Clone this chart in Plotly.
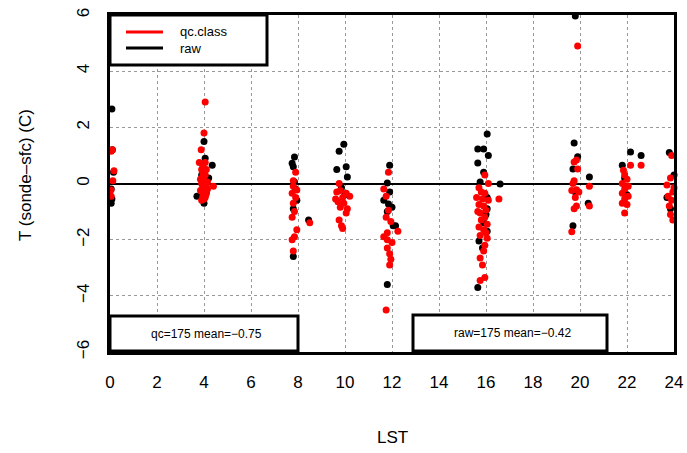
import plotly.graph_objects as go

# ---------------- data ----------------
raw_lst = [0.08, 0.08, 0.05, 0.10, 0.15, 0.05,
           4.00, 4.35, 3.70, 4.00, 3.90, 4.10, 4.20, 3.95, 4.05,
           7.85, 7.75, 7.80, 7.85, 7.95, 8.45, 7.80, 7.90, 7.80,
           9.95, 9.75, 10.05, 9.65, 10.10, 9.85, 10.00,
           11.90, 11.80, 11.65, 11.85, 12.00, 11.80, 12.05, 12.15, 11.80, 11.90,
           16.05, 15.65, 15.90, 16.10, 15.65, 15.90, 15.75, 16.60, 16.05, 16.00,
           16.05, 15.70, 15.85, 15.65, 15.90, 16.05,
           19.80, 19.75, 19.90, 19.70, 20.40, 20.35, 19.70, 19.80,
           22.15, 22.60, 21.80, 21.90, 22.00,
           23.80, 24.00, 23.70, 23.85]
raw_dt = [2.65, -0.55, -0.70, 1.20, 0.40, -0.20,
          1.50, 0.65, -0.45, -0.70, 0.30, -0.30, 0.20, 0.00, 0.90,
          0.94, 0.72, 0.60, 0.05, -0.60, -1.30, -2.60, -0.20, -0.90,
          1.40, 1.15, 0.60, 0.50, 0.23, -0.15, -0.40,
          0.65, 0.02, -0.60, -0.73, -0.85, -1.00, -1.50, -1.50, -3.60, -0.30,
          1.76, 1.23, 1.23, 1.00, 0.73, 0.40, 0.05, -0.02, -0.50, -1.10,
          -1.70, -2.05, -2.30, -3.70, -1.40, -0.90,
          5.96, 1.44, 0.95, 0.52, 0.23, -0.70, -1.50, -0.30,
          1.12, 1.00, 0.65, 0.20, -0.40,
          1.10, 0.30, -0.50, -0.90]

qc_lst = [0.10, 0.05, 0.17, 0.12, 0.04, 0.05,
          4.05, 4.00, 3.88, 3.80, 3.95, 4.05, 3.90, 4.10, 3.95, 4.05, 3.85, 4.00, 4.15, 4.40,
          3.90, 3.95, 4.05, 4.15, 3.85, 4.00, 4.10, 3.95, 4.05, 4.00, 3.90, 4.10, 3.92, 4.08,
          7.90, 7.80, 7.95, 7.75, 7.80, 7.85, 7.75, 7.95, 7.85, 7.75, 7.80, 8.50, 7.90, 7.80,
          9.75, 9.80, 10.05, 9.65, 9.90, 10.20, 9.70, 9.95, 9.80, 10.10, 10.05, 9.75, 9.85, 9.90, 9.60,
          11.85, 11.65, 11.75, 11.85, 11.75, 12.25, 11.65, 11.80, 12.00, 11.80, 11.90, 11.95, 11.90,
          11.75, 11.95, 11.80,
          15.95, 16.10, 16.55, 15.70, 15.80, 15.95, 15.60, 15.85, 16.10, 15.70, 15.90, 16.00, 15.75,
          15.95, 15.80, 16.05, 15.70, 15.90, 15.75, 16.05, 15.95, 15.90, 15.75, 15.85, 15.95, 15.75,
          16.00, 15.65,
          19.90, 19.75, 19.85, 19.90, 19.75, 19.70, 19.85, 19.65, 19.95, 19.80, 20.40, 19.85, 19.75,
          20.40, 19.65,
          22.15, 22.60, 21.85, 21.90, 22.00, 21.80, 22.05, 21.90, 21.80, 22.05, 21.90, 21.80, 22.00, 21.90,
          23.90, 23.70, 23.85, 23.95, 23.75, 23.90, 23.80, 23.85, 23.95, 24.00]
qc_dt = [1.20, 1.15, 0.45, 0.10, -0.23, -0.45,
         2.90, 1.80, 1.20, 0.75, 0.60, 0.75, 0.50, 0.50, 0.35, 0.30, 0.15, 0.10, 0.05, -0.10,
         0.00, -0.10, -0.15, -0.20, -0.25, -0.30, -0.35, -0.45, -0.50, -0.55, -0.60, -0.05, 0.20, -0.40,
         0.40, -0.10, -0.23, -0.35, -0.70, -1.00, -1.20, -1.65, -1.90, -2.00, -2.40, -1.40, -0.50, 0.10,
         0.00, -0.25, -0.35, -0.30, -0.50, -0.45, -0.65, -0.70, -0.85, -0.90, -1.05, -1.30, -1.50, -1.60, -0.55,
         0.40, -0.20, -0.45, -0.95, -1.20, -1.70, -1.90, -2.00, -2.10, -2.30, -2.50, -2.70, -2.90,
         -4.50, -1.35, -1.75,
         0.30, 0.00, -0.55, -0.15, -0.30, -0.35, -0.50, -0.55, -0.60, -0.75, -0.80, -0.95, -1.05,
         -1.20, -1.30, -1.45, -1.55, -1.65, -1.85, -1.95, -2.20, -2.40, -2.65, -2.90, -3.35, -3.45,
         -1.75, -1.00,
         4.90, 0.77, 0.84, 0.52, 0.10, 0.00, -0.22, -0.25, -0.30, -0.50, -0.10, -0.80, -0.90,
         -0.80, -1.72,
         0.65, 0.65, 0.47, 0.30, 0.15, 0.00, -0.10, -0.20, -0.35, -0.45, -0.55, -0.70, -0.75, -1.05,
         1.00, -0.05, 0.20, -0.30, -0.45, -0.60, -0.80, -1.10, -1.30, -0.15]

x_ticks = [0, 2, 4, 6, 8, 10, 12, 14, 16, 18, 20, 22, 24]
y_ticks = [-6, -4, -2, 0, 2, 4, 6]
y_tick_labels = ["\u22126", "\u22124", "\u22122", "0", "2", "4", "6"]

series_names = ["qc.class", "raw"]
qc_n, qc_mean = 175, "\u22120.75"
raw_n, raw_mean = 175, "\u22120.42"

FONT = "Liberation Sans, Arial, sans-serif"

fig = go.Figure()
fig.add_trace(go.Scatter(x=raw_lst, y=raw_dt, mode="markers", name="raw",
                         marker=dict(color="black", size=7), cliponaxis=False,
                         showlegend=False))
fig.add_trace(go.Scatter(x=qc_lst, y=qc_dt, mode="markers", name="qc.class",
                         marker=dict(color="#ff0000", size=7), cliponaxis=False,
                         showlegend=False))

W, H = 687, 453
PL, PR, PT, PB = 110, 674, 15, 352          # plot box in reference pixels
L, T = PL, PT
R, B = W - PR, H - PB
pw, ph = PR - PL, PB - PT


def px(xp):
    return (xp - PL) / pw


def py(yp):
    return (PB - yp) / ph


shapes = []
annotations = []
# legend box
shapes.append(dict(type="rect", xref="paper", yref="paper",
                   x0=px(110), x1=px(267), y0=py(65), y1=py(15),
                   line=dict(color="black", width=3), fillcolor="white", layer="above"))
for yy, col, name in [(32, "#ff0000", series_names[0]), (48, "black", series_names[1])]:
    shapes.append(dict(type="line", xref="paper", yref="paper",
                       x0=px(126), x1=px(163), y0=py(yy), y1=py(yy),
                       line=dict(color=col, width=3), layer="above"))
    annotations.append(dict(xref="paper", yref="paper", x=px(178), y=py(yy),
                            xanchor="left", yanchor="middle", text=name, showarrow=False,
                            font=dict(family=FONT, size=13, color="black")))
# stats boxes
shapes.append(dict(type="rect", xref="paper", yref="paper",
                   x0=px(110), x1=px(298), y0=py(351), y1=py(316),
                   line=dict(color="black", width=3), fillcolor="white", layer="above"))
annotations.append(dict(xref="paper", yref="paper", x=px(206), y=py(334),
                        xanchor="center", yanchor="middle",
                        text=f"qc={qc_n} mean={qc_mean}", showarrow=False,
                        font=dict(family=FONT, size=12, color="black")))
shapes.append(dict(type="rect", xref="paper", yref="paper",
                   x0=px(413), x1=px(607), y0=py(351), y1=py(315),
                   line=dict(color="black", width=3), fillcolor="white", layer="above"))
annotations.append(dict(xref="paper", yref="paper", x=px(512), y=py(333),
                        xanchor="center", yanchor="middle",
                        text=f"raw={raw_n} mean={raw_mean}", showarrow=False,
                        font=dict(family=FONT, size=12, color="black")))
# axis titles
annotations.append(dict(xref="paper", yref="paper", x=px(392), y=py(437),
                        xanchor="center", yanchor="middle", text="LST", showarrow=False,
                        font=dict(family=FONT, size=17, color="black")))
annotations.append(dict(xref="paper", yref="paper", x=px(25), y=py(175),
                        xanchor="center", yanchor="middle", text="T (sonde\u2013sfc) (C)",
                        textangle=-90, showarrow=False,
                        font=dict(family=FONT, size=17, color="black")))

fig.update_layout(
    width=W, height=H,
    margin=dict(l=L, r=R, t=T, b=B),
    paper_bgcolor="white", plot_bgcolor="white",
    font=dict(family=FONT, size=17, color="black"),
    shapes=shapes, annotations=annotations,
    showlegend=False,
)
fig.update_xaxes(range=[0, 24], tickvals=x_ticks, ticktext=[str(v) for v in x_ticks],
                 showgrid=True, gridcolor="#999999", griddash="dot", gridwidth=1,
                 zeroline=False, showline=True, mirror=True, linecolor="black", linewidth=2.5,
                 ticks="", ticklabelstandoff=13, tickfont=dict(size=17), automargin=False,
                 ticklabeloverflow="allow")
fig.update_yaxes(range=[-6, 6], tickvals=y_ticks, ticktext=y_tick_labels, tickangle=-90,
                 showgrid=True, gridcolor="#999999", griddash="dot", gridwidth=1,
                 zeroline=True, zerolinecolor="black", zerolinewidth=1.5,
                 showline=True, mirror=True, linecolor="black", linewidth=2.5,
                 ticks="", ticklabelstandoff=11, tickfont=dict(size=17), automargin=False,
                 ticklabeloverflow="allow")

fig.write_html("out.html", config={"displayModeBar": False},
               post_script="document.body.style.margin='0';"
                           "document.body.style.overflow='hidden';")
